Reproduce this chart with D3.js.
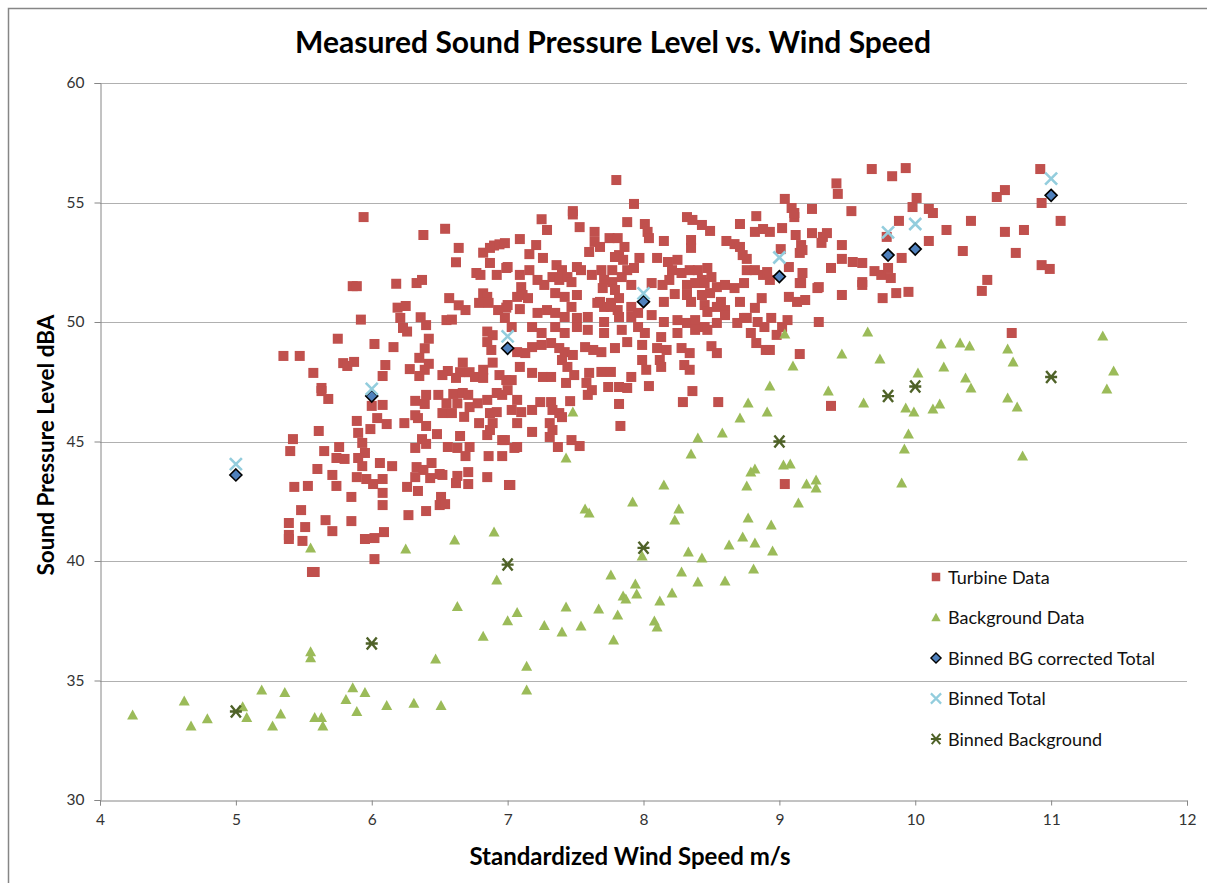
<!DOCTYPE html>
<html>
<head>
<meta charset="utf-8">
<script src="https://cdn.jsdelivr.net/npm/d3@7"></script>
<style>
  html, body { margin: 0; background: #fff; overflow: hidden; }
  svg { display: block; font-family: Lato, "Open Sans", sans-serif; }
</style>
</head>
<body>
<div id="chart"></div>
<script>
// data: [wind speed m/s, level dBA]
const turbineData = [
  [5.94,54.39],[6.38,53.64],[6.54,53.9],[6.64,53.1],[6.62,52.5],[6.82,52.9],[6.87,53.1],[6.90,53.2],[6.94,53.25],[6.87,52.47],
  [6.77,52.05],[6.80,51.97],[6.92,51.97],[6.99,52.26],[5.86,51.5],[5.89,51.5],[6.18,51.6],[6.33,51.63],[6.37,51.76],[6.57,51.0],
  [6.64,50.7],[6.69,50.5],[6.82,51.2],[6.85,51.05],[6.79,50.8],[6.86,50.8],[6.93,50.5],[6.99,50.6],[6.19,50.6],[6.25,50.67],
  [6.21,50.17],[6.36,50.2],[6.40,49.87],[6.55,50.08],[6.59,50.1],[6.98,50.17],[5.92,50.1],[6.23,49.75],[6.26,49.6],[6.42,49.3],
  [6.39,48.9],[6.35,48.5],[6.42,48.25],[6.39,48.0],[6.28,48.03],[6.35,47.74],[5.75,49.3],[6.02,49.08],[6.16,48.95],[5.35,48.58],
  [5.47,48.58],[5.79,48.28],[5.87,48.33],[5.82,48.16],[6.10,48.2],[6.08,47.74],[5.57,47.87],[5.63,47.24],[6.85,49.6],[6.89,49.45],
  [6.85,49.16],[6.88,48.83],[6.89,48.3],[6.67,48.3],[6.65,47.9],[6.56,47.95],[6.52,47.78],[6.72,47.9],[6.76,47.7],[6.82,48.0],
  [6.82,47.66],[6.62,47.66],[6.94,47.78],[6.99,47.57],
  [5.63,47.11],[5.68,46.78],[6.08,46.53],[6.0,46.49],[5.89,45.86],[6.04,45.98],[6.11,45.73],[5.99,45.52],[5.61,45.44],[5.90,45.36],
  [5.93,44.94],[5.95,44.52],[5.90,44.31],[5.93,43.97],[5.42,45.1],[5.40,44.6],[5.65,44.6],[5.76,44.77],[5.74,44.31],[5.80,44.27],
  [5.60,43.85],[5.71,43.6],[5.74,43.14],[5.43,43.1],[5.53,43.14],[5.89,43.51],[5.96,43.43],[6.01,43.22],[6.08,43.43],[6.08,42.85],
  [6.06,44.1],[6.15,43.97],[5.85,42.68],[6.08,42.34],[5.48,42.13],[5.39,41.59],[5.51,41.42],[5.66,41.71],[5.71,41.25],[5.85,41.67],
  [5.39,41.09],[5.39,40.92],[5.49,40.84],[5.95,40.92],[6.02,40.96],[6.09,41.21],[6.02,40.08],[5.56,39.54],[5.58,39.54],
  [6.32,46.7],[6.40,46.95],[6.49,46.95],[6.39,46.57],[6.55,46.6],[6.60,46.99],[6.63,46.6],[6.67,47.03],[6.71,46.95],[6.52,46.19],
  [6.59,46.19],[6.68,46.03],[6.32,46.1],[6.34,45.98],[6.40,45.65],[6.24,45.77],[6.48,45.31],[6.37,45.1],[6.40,44.9],[6.32,44.73],
  [6.65,45.23],[6.56,44.77],[6.63,44.73],[6.72,44.77],[6.69,44.39],[6.79,45.77],[6.72,46.44],[6.78,46.6],[6.85,46.74],[6.92,47.03],
  [6.96,46.95],[6.87,46.19],[6.92,46.23],[6.89,45.77],[6.85,45.27],[6.87,45.48],[6.96,45.06],[6.86,44.39],[6.96,44.39],[6.33,43.93],
  [6.38,43.81],[6.44,44.1],[6.50,43.64],[6.43,43.47],[6.32,43.51],[6.26,43.1],[6.34,42.93],[6.52,43.6],[6.63,43.56],[6.62,43.26],
  [6.71,43.72],[6.71,43.22],[6.85,43.51],[6.51,42.68],[6.50,42.34],[6.54,42.38],[6.27,41.92],[6.40,42.09],[7.01,43.18],
  [7.80,55.94],[7.93,54.94],[7.48,54.64],[7.48,54.5],[7.25,54.3],[7.53,53.97],[7.88,54.18],[8.01,54.1],[8.03,53.77],[8.04,53.51],
  [8.32,54.39],[8.36,54.27],[8.43,54.06],[8.49,53.81],[8.71,54.1],[8.83,54.43],[8.82,53.77],[8.88,53.89],[7.29,53.85],[7.09,53.47],
  [7.21,53.22],[7.16,52.84],[7.26,52.68],[7.64,53.77],[7.64,53.35],[7.60,52.93],[7.68,53.14],[7.75,53.51],[7.81,53.51],[7.86,53.14],
  [7.82,52.8],[7.79,52.72],[7.85,52.6],[7.97,52.68],[8.10,52.68],[8.15,53.39],[8.18,52.51],[8.25,52.6],[8.35,53.1],[8.35,53.43],
  [8.61,53.39],[8.67,53.26],[8.71,53.14],[8.73,52.8],[8.76,52.64],[7.0,52.3],[6.98,53.3],[7.36,52.38],[7.40,52.17],[7.51,52.3],
  [7.54,52.17],[7.16,52.17],[7.09,51.97],[7.22,51.76],[7.33,51.88],[7.38,51.76],[7.44,51.88],[7.47,51.67],[7.62,51.97],[7.69,52.17],
  [7.77,52.17],[7.88,52.17],[7.93,52.26],[7.71,51.76],[7.77,51.67],[7.84,51.88],[7.10,51.46],[7.11,51.13],[7.07,51.05],[7.15,51.0],
  [7.27,51.55],[7.35,51.21],[7.42,51.05],[7.51,51.13],[7.47,50.63],[7.70,51.42],[7.79,51.34],[7.82,51.0],[7.91,51.55],[7.68,50.84],
  [7.71,50.63],[7.76,50.8],[7.81,50.5],[7.91,50.63],[8.06,51.63],[8.14,51.55],[8.19,51.76],[8.23,51.17],[8.15,50.84],[8.21,52.17],
  [8.28,52.05],[8.34,52.17],[8.40,52.17],[8.47,52.26],[8.50,51.88],[8.43,51.76],[8.32,51.55],[8.38,51.63],[8.45,51.63],[8.32,51.13],
  [8.43,51.13],[8.49,51.21],[8.54,51.46],[8.60,51.55],[8.67,51.42],[8.74,51.63],[8.57,50.84],[8.60,50.5],[8.71,50.84],[8.74,50.17],
  [8.82,50.59],[8.87,51.0],[8.76,52.17],[8.82,52.17],[8.88,51.97],[8.91,52.09],[8.93,51.76],[8.35,50.84],[8.45,50.71],[8.47,50.42],
  [8.54,50.63],[8.60,50.42],
  [7.0,50.71],[7.09,50.54],[7.22,50.38],[7.29,50.5],[7.35,50.38],[7.42,50.21],[7.51,50.17],[7.59,50.21],[7.66,50.8],[7.76,50.63],
  [7.82,50.21],[7.71,50.0],[7.91,50.21],[7.96,50.38],[8.06,50.29],[8.15,50.0],[8.25,50.08],[8.32,49.96],[8.38,50.08],[8.45,49.79],
  [8.54,49.96],[8.60,50.29],[8.69,49.96],[8.76,50.17],[8.84,50.0],[8.89,49.79],[8.79,49.54],[7.03,49.79],[7.18,49.79],[7.25,49.54],
  [7.35,49.79],[7.42,49.54],[7.51,49.79],[7.59,49.67],[7.71,49.54],[7.84,49.67],[7.96,49.79],[8.01,49.54],[8.13,49.37],[8.25,49.54],
  [8.38,49.67],[8.47,49.67],
  [7.07,48.74],[7.13,48.7],[7.18,48.95],[7.25,49.04],[7.32,49.12],[7.38,48.91],[7.42,48.74],[7.48,48.62],[7.57,48.95],[7.63,48.83],
  [7.69,48.74],[7.79,48.91],[7.88,49.16],[7.99,49.04],[8.10,48.91],[8.17,48.83],[8.28,48.91],[8.34,48.7],[8.50,48.99],[8.54,48.7],
  [8.83,49.12],[8.90,48.83],[7.09,48.12],[7.18,47.87],[7.26,47.7],[7.32,47.7],[7.40,48.41],[7.44,48.12],[7.49,47.78],[7.43,47.45],
  [7.60,47.87],[7.69,47.91],[7.76,47.91],[7.58,47.45],[7.62,47.15],[7.59,46.95],[7.74,47.28],[7.82,47.28],[7.88,47.24],[7.91,47.7],
  [7.99,48.41],[8.02,48.0],[8.12,48.41],[8.13,48.12],[8.30,48.2],[8.34,48.0],[8.04,47.32],[8.36,47.11],[8.29,46.65],[8.55,46.65],
  [7.82,46.57],[7.83,45.65],[7.03,47.57],[7.0,47.15],[7.07,46.74],[7.03,46.32],[7.10,46.23],[7.18,46.32],[7.07,45.77],[7.18,45.4],
  [7.24,46.65],[7.32,46.65],[7.33,46.32],[7.38,46.19],[7.46,46.69],[7.40,46.02],[7.31,45.77],[7.33,45.48],[7.31,45.19],[7.47,45.06],
  [7.53,44.81],[7.37,44.77],[6.98,45.06],[7.05,44.73],[7.07,44.77],[7.02,43.18],
  [9.68,56.4],[9.83,56.1],[9.93,56.44],[10.92,56.4],[9.42,55.8],[9.43,55.36],[10.66,55.52],[10.60,55.23],[9.04,55.15],[10.01,55.19],
  [9.98,54.81],[10.93,54.98],[9.09,54.77],[9.11,54.39],[9.11,54.56],[9.24,54.73],[9.53,54.64],[10.10,54.73],[10.13,54.56],[9.88,54.23],
  [10.41,54.23],[11.07,54.23],[10.23,53.85],[10.66,53.77],[10.80,53.85],[9.02,53.93],[9.12,53.64],[9.24,53.72],[9.32,53.56],[9.35,53.72],
  [9.31,53.31],[9.16,53.22],[9.15,52.89],[9.17,53.01],[9.46,53.22],[9.79,53.56],[10.10,53.39],[10.35,52.97],[10.74,52.89],[9.01,53.05],
  [8.93,53.77],[9.07,52.30],[9.17,52.05],[9.16,51.63],[9.46,52.64],[9.54,52.51],[9.61,52.47],[9.38,52.26],[9.90,52.68],[9.70,52.13],
  [9.75,51.97],[9.80,52.26],[9.82,51.84],[9.61,51.67],[9.61,51.55],[9.29,51.46],[9.28,51.42],[9.15,51.63],[9.07,51.05],[9.13,50.84],
  [9.19,50.92],[9.46,51.13],[9.76,51.0],[9.86,51.21],[9.95,51.26],[10.53,51.76],[10.49,51.30],[10.93,52.38],[10.99,52.22],[8.94,50.17],
  [9.06,50.08],[9.02,49.79],[8.98,49.46],[9.29,50.0],[9.15,48.66],[10.71,49.54],[9.38,46.49],[8.93,48.83],[9.04,43.22]
];

const backgroundData = [
  [4.24,33.56],[4.62,34.14],[4.67,33.1],[4.79,33.4],[5.05,33.9],[5.08,33.45],[5.19,34.6],[5.27,33.1],[5.33,33.6],[5.36,34.5],
  [5.55,36.2],[5.55,35.95],[5.58,33.45],[5.63,33.45],[5.64,33.1],[5.81,34.2],[5.86,34.7],[5.89,33.7],[5.95,34.5],[6.11,33.95],
  [6.31,34.05],[6.47,35.9],[6.51,33.95],[6.82,36.85],[5.55,40.54],[6.25,40.50],[6.61,40.88],[6.90,41.21],[6.92,39.2],[7.0,37.5],
  [7.07,37.85],[7.27,37.3],[7.14,35.6],[7.14,34.6],[6.63,38.1],[7.48,46.23],[7.43,44.31],
  [9.04,49.50],[9.65,49.58],[10.19,49.08],[10.33,49.12],[10.40,49.0],[10.68,48.87],[11.38,49.41],[9.46,48.66],[9.74,48.45],[10.72,48.33],
  [9.10,48.16],[10.21,48.12],[11.46,47.95],[10.02,47.87],[10.37,47.66],[10.41,47.24],[8.93,47.32],[9.36,47.11],[11.41,47.2],[8.77,46.61],
  [9.62,46.61],[9.93,46.4],[9.99,46.23],[10.18,46.57],[10.13,46.36],[10.68,46.82],[10.75,46.44],[8.91,46.23],[8.71,45.98],[9.95,45.31],
  [8.40,45.15],[8.58,45.36],[8.35,44.48],[9.92,44.69],[10.79,44.39],[8.79,43.72],[8.82,43.85],[9.03,44.02],[9.08,44.06],[9.27,43.39],
  [9.27,43.05],[9.2,43.22],[8.76,43.14],[9.90,43.26],[8.15,43.18],[7.92,42.47],[9.14,42.43],[7.57,42.18],[7.60,42.01],[8.26,42.18],
  [8.23,41.72],[8.77,41.80],[8.94,41.51],[8.73,41.0],[8.82,40.75],[8.63,40.67],[8.95,40.42],[8.33,40.38],[8.43,40.13],[7.99,40.21],
  [8.81,39.67],[7.76,39.41],[8.28,39.54],[7.94,39.04],[8.40,39.12],[8.6,39.16],[7.85,38.54],[7.87,38.41],[7.95,38.62],[8.21,38.66],
  [8.12,38.33],[7.43,38.08],[7.67,37.99],[7.81,37.74],[7.54,37.28],[7.40,37.03],[8.08,37.49],[8.10,37.24],[7.78,36.69]
];

const binSpeeds = [5, 6, 7, 8, 9, 9.8, 10, 11];
const binCorrected = [43.6, 46.9, 48.9, 50.85, 51.9, 52.8, 53.05, 55.3];
const binTotal = [44.05, 47.2, 49.4, 51.2, 52.7, 53.75, 54.1, 56.0];
const binBackground = [33.7, 36.55, 39.85, 40.55, 45.0, 46.9, 47.3, 47.7];

const xTicks = [4, 5, 6, 7, 8, 9, 10, 11, 12];
const yTicks = [30, 35, 40, 45, 50, 55, 60];

const legendLabels = ["Turbine Data", "Background Data", "Binned BG corrected Total", "Binned Total", "Binned Background"];

const width = 1207, height = 883;
const margin = {top: 83, right: 20, bottom: 83, left: 100};

const svg = d3.select('#chart').append('svg')
    .attr('width', width)
    .attr('height', height);

// chart frame (only left/top edges fall inside the picture)
svg.append('rect')
    .attr('x', 8.5).attr('y', 8.5)
    .attr('width', 1300).attr('height', 1000)
    .attr('fill', '#fff')
    .attr('stroke', '#868686')
    .attr('stroke-width', 1.5);

const x = d3.scaleLinear().domain([4, 12]).range([margin.left, 1187]);
const y = d3.scaleLinear().domain([30, 60]).range([800, margin.top]);

// gridlines
svg.append('g')
    .selectAll('line')
    .data(yTicks.slice(1))
    .join('line')
    .attr('x1', x(4)).attr('x2', x(12))
    .attr('y1', d => Math.round(y(d)) + 0.5).attr('y2', d => Math.round(y(d)) + 0.5)
    .attr('stroke', '#b0b0b0');

// axes
const xAxis = svg.append('g')
    .attr('transform', `translate(0,${y(30) + 0.5})`)
    .call(d3.axisBottom(x).tickValues(xTicks).tickSize(5).tickPadding(8).tickFormat(d3.format('d')));
const yAxis = svg.append('g')
    .attr('transform', `translate(${x(4) + 0.5},0)`)
    .call(d3.axisLeft(y).tickValues(yTicks).tickSize(6).tickPadding(10).tickFormat(d3.format('d')));

[xAxis, yAxis].forEach(a => {
    a.select('.domain').attr('stroke', '#868686');
    a.selectAll('.tick line').attr('stroke', '#868686');
    a.selectAll('.tick text')
        .attr('fill', '#333')
        .style('font-size', '15.5px')
        .style('font-family', 'Lato, "Open Sans", sans-serif');
});

// marker shapes
const sq = 10;
function square(g) {
    g.append('rect').attr('x', -sq / 2).attr('y', -sq / 2).attr('width', sq).attr('height', sq)
        .attr('fill', '#C0504D');
}
function triangle(g) {
    g.append('path').attr('d', 'M0,-5.5L5.5,4.5L-5.5,4.5Z').attr('fill', '#9BBB59');
}
function diamond(g) {
    g.append('path').attr('d', 'M0,-6L6,0L0,6L-6,0Z')
        .attr('fill', '#4F81BD').attr('stroke', '#000').attr('stroke-width', 1.6);
}
function cross(g) {
    g.append('path').attr('d', 'M-6,-6L6,6M-6,6L6,-6')
        .attr('stroke', '#93CDDD').attr('stroke-width', 2.6).attr('fill', 'none');
}
function star(g) {
    g.append('path').attr('d', 'M-5,-6L5,6M-5,6L5,-6M-6,0L6,0')
        .attr('stroke', '#4F6228').attr('stroke-width', 2.4).attr('fill', 'none');
}

function drawSeries(data, shape) {
    svg.append('g')
        .selectAll('g')
        .data(data)
        .join('g')
        .attr('transform', d => `translate(${x(d[0])},${y(d[1])})`)
        .each(function () { shape(d3.select(this)); });
}

drawSeries(turbineData, square);
drawSeries(backgroundData, triangle);
drawSeries(binSpeeds.map((s, i) => [s, binCorrected[i]]), diamond);
drawSeries(binSpeeds.map((s, i) => [s, binTotal[i]]), cross);
drawSeries(binSpeeds.map((s, i) => [s, binBackground[i]]), star);

// title and axis titles
svg.append('text')
    .attr('x', 613).attr('y', 53)
    .attr('text-anchor', 'middle')
    .style('font-size', '30px').style('font-weight', 'bold')
    .attr('fill', '#000')
    .text('Measured Sound Pressure Level vs. Wind Speed');

svg.append('text')
    .attr('x', 630).attr('y', 865)
    .attr('text-anchor', 'middle')
    .style('font-size', '24px').style('font-weight', 'bold')
    .text('Standardized Wind Speed m/s');

svg.append('text')
    .attr('transform', 'translate(54,445) rotate(-90)')
    .attr('text-anchor', 'middle')
    .style('font-size', '22.5px').style('font-weight', 'bold')
    .text('Sound Pressure Level dBA');

// legend
const shapes = [square, triangle, diamond, cross, star];
const legend = svg.append('g').attr('transform', 'translate(936,577)');
legendLabels.forEach((label, i) => {
    const row = legend.append('g').attr('transform', `translate(0,${i * 40.5})`);
    const m = row.append('g').attr('transform', 'scale(0.85)');
    shapes[i](m);
    row.append('text')
        .attr('x', 12).attr('y', 6.5)
        .style('font-size', '18px')
        .attr('fill', '#111')
        .text(label);
});
</script>
</body>
</html>
